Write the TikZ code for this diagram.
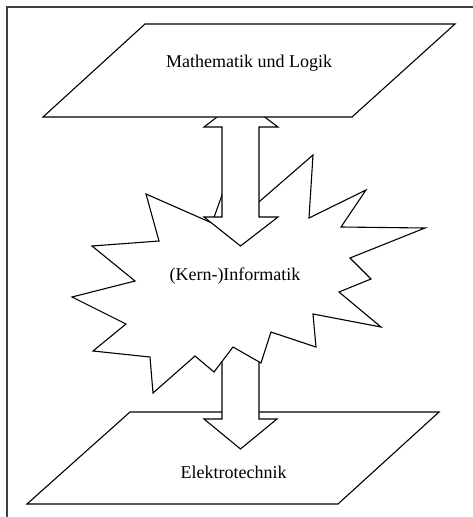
\documentclass[tikz,border=0pt]{standalone}
\usepackage{fontspec}
\setmainfont{Liberation Serif}
\begin{document}
\begin{tikzpicture}[x=1pt,y=-1pt,line join=miter,
  frameline/.style={draw=black!75,line width=2pt},
  shapeline/.style={draw=black,fill=white,line width=1.1pt},
  lbl/.style={font=\fontsize{18}{20}\selectfont,inner sep=0pt,anchor=base}]
\useasboundingbox (0,0) rectangle (473,517);
\fill[white] (0,0) rectangle (473,517);
% frame (top and left edges only visible)
\draw[frameline] (7,517) -- (7,7) -- (473,7);
% bottom plane
\draw[shapeline] (130,412) -- (439,412) -- (338,504) -- (27,504) -- cycle;
% arrow from star down to bottom plane
\draw[shapeline] (222,330) -- (222,419) -- (204,419) -- (240.5,449) -- (277,419)
  -- (259,419) -- (259,330) -- cycle;
% star
\draw[shapeline] (146,194) -- (212,223) -- (231,170) -- (245,214) -- (313,155)
  -- (309,218) -- (366,190) -- (341,227) -- (425,228) -- (350,258)
  -- (371,279) -- (339,292) -- (381,327) -- (313,314) -- (316,347)
  -- (271,332) -- (261,363) -- (233,347) -- (214,372) -- (195,356)
  -- (153,393) -- (150,357) -- (93,351) -- (126,324) -- (72,297)
  -- (135,281) -- (92,246) -- (159,241) -- cycle;
% double arrow between top plane and star
\draw[shapeline] (240.5,99) -- (278,127) -- (259,127) -- (259,217) -- (278,217)
  -- (240.5,246) -- (204,217) -- (222,217) -- (222,127) -- (204,127) -- cycle;
% top plane
\draw[shapeline] (145,24) -- (455,24) -- (352,117) -- (43,117) -- cycle;
% labels
\node[lbl] (mathe) at (249,67) {Mathematik und Logik};
\node[lbl] (kern) at (235,280) {(Kern-)Informatik};
\node[lbl] (etech) at (233.5,478) {Elektrotechnik};
\end{tikzpicture}
\end{document}
